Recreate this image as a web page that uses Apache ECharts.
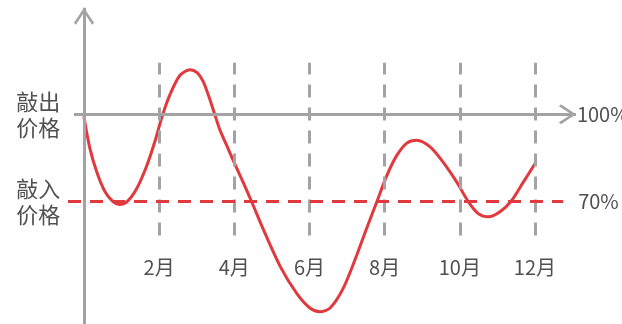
<!DOCTYPE html>
<html>
<head>
<meta charset="utf-8">
<script src="https://cdn.jsdelivr.net/npm/echarts@6/dist/echarts.min.js"></script>
<style>
  html, body { margin: 0; padding: 0; background: #ffffff; }
  #chart { width: 622px; height: 324px; }
</style>
</head>
<body>
<div id="chart"></div>
<script>
// Underlying price path over the year, in % of the initial price
const months = [0, 0.16, 0.34, 0.56, 0.78, 0.94, 1.14, 1.40, 1.67, 1.89, 2.08, 2.29, 2.55, 2.82,
  3.01, 3.17, 3.33, 3.46, 3.62, 3.78, 3.97, 4.23, 4.47, 4.76, 5.22, 5.67, 6.01, 6.28, 6.55, 6.90,
  7.26, 7.52, 7.79, 8.06, 8.32, 8.59, 8.85, 9.21, 9.56, 9.92, 10.23, 10.49, 10.76, 11.07, 11.38,
  11.69, 12.0];
const prices = [99.0, 88.1, 80.2, 73.4, 69.9, 69.0, 69.9, 74.4, 82.3, 90.8, 99.3, 106.8, 113.3,
  115.3, 114.3, 111.3, 105.8, 100.7, 94.5, 89.8, 84.2, 76.8, 69.7, 60.8, 47.8, 38.3, 33.5, 32.2,
  33.5, 40.3, 51.7, 60.8, 69.9, 79.0, 85.8, 90.1, 91.1, 88.8, 83.5, 76.7, 69.9, 65.9, 64.8, 66.5,
  70.4, 76.7, 83.0];

// Observation dates and their labels
const tickMonths = [2, 4, 6, 8, 10, 12];
const tickLabels = ['2月', '4月', '6月', '8月', '10月', '12月'];

// Barrier levels
const knockOut = 100;
const knockIn = 70;
const knockOutText = '敲出\n价格';
const knockInText = '敲入\n价格';
const knockOutTag = '100%';
const knockInTag = '70%';

const FONT = '"Noto Sans CJK SC", "Noto Sans", sans-serif';
const GRAY = '#a3a3a3';
const RED = '#e0393e';
const TEXT = '#505050';

// open chevron pointing up; the tip sits at the symbol centre
const chevron = 'path://M0,15 L10,0 L20,15 L18,17 L10,4.5 L2,17 Z M10,-17 L10.01,-17 L10,-16.99 Z';

const chart = echarts.init(document.getElementById('chart'), null, { renderer: 'canvas' });

const guideLines = [];
// vertical axis
guideLines.push([
  { coord: [0, 28], symbol: 'none', lineStyle: { color: GRAY, width: 3, type: 'solid' }, label: { show: false } },
  { coord: [0, 136.6], symbol: chevron, symbolSize: [20, 34] }
]);
// horizontal axis through the knock-out level
guideLines.push([
  { coord: [-0.266, knockOut], symbol: 'none', lineStyle: { color: GRAY, width: 3, type: 'solid' },
    label: { show: true, position: 'end', distance: 1, formatter: knockOutTag, fontSize: 20, color: TEXT, fontFamily: FONT } },
  { coord: [13.09, knockOut], symbol: chevron, symbolSize: [20, 34] }
]);
// observation dates
tickMonths.forEach((m, i) => {
  guideLines.push([
    { coord: [m, 58.4], symbol: 'none', lineStyle: { color: GRAY, width: 3, type: [13, 10] },
      label: { show: true, position: 'start', distance: 22, formatter: tickLabels[i], fontSize: 20, color: TEXT, fontFamily: FONT } },
    { coord: [m, 117.7], symbol: 'none' }
  ]);
});
// knock-in level
guideLines.push([
  { coord: [-0.426, knockIn], symbol: 'none', lineStyle: { color: RED, width: 3, type: [13, 9] },
    label: { show: true, position: 'end', distance: 15, formatter: knockInTag, fontSize: 20, color: TEXT, fontFamily: FONT } },
  { coord: [12.75, knockIn], symbol: 'none' }
]);

chart.setOption({
  animation: false,
  backgroundColor: '#ffffff',
  grid: { left: 65.21, width: 526.12, top: 3.55, height: 322.7, containLabel: false },
  xAxis: {
    type: 'value', min: -0.5, max: 13.5,
    axisLine: { show: false }, axisTick: { show: false }, axisLabel: { show: false }, splitLine: { show: false }
  },
  yAxis: {
    type: 'value', min: 28, max: 138,
    axisLine: { show: false, onZero: false }, axisTick: { show: false }, splitLine: { show: false },
    axisLabel: {
      show: true,
      customValues: [knockIn, knockOut],
      formatter: v => (v === knockOut ? knockOutText : knockInText),
      margin: 5,
      fontSize: 22,
      lineHeight: 26,
      padding: [10, 0, 0, 0],
      color: TEXT,
      fontFamily: FONT
    }
  },
  series: [
    {
      name: 'guides',
      type: 'line',
      data: [],
      z: 1,
      clip: false,
      markLine: {
        silent: true,
        animation: false,
        symbol: 'none',
        precision: 4,
        data: guideLines
      }
    },
    {
      name: 'price',
      type: 'line',
      z: 3,
      clip: false,
      smooth: 0.28,
      symbol: 'none',
      data: months.map((m, i) => [m, prices[i]]),
      lineStyle: { color: RED, width: 3, join: 'round', cap: 'round' }
    }
  ]
});
</script>
</body>
</html>
